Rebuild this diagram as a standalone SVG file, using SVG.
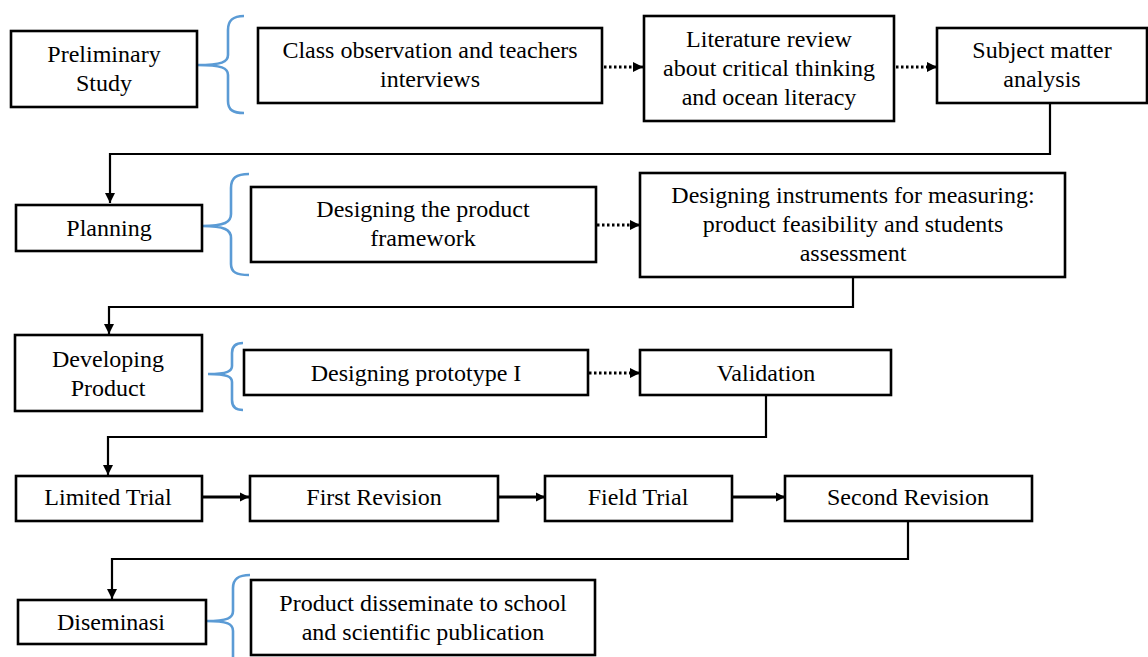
<svg xmlns="http://www.w3.org/2000/svg" width="1148" height="657" viewBox="0 0 1148 657">
<style>
.box{fill:#fff;stroke:#000;stroke-width:2.6}
.t{font-family:"Liberation Serif","Times New Roman",serif;font-size:24px;fill:#000;text-anchor:middle}
.brace{fill:none;stroke:#5B9BD5;stroke-width:2.6}
.solid{fill:none;stroke:#000;stroke-width:2.2}
.dot{fill:none;stroke:#000;stroke-width:2.8;stroke-dasharray:2.5 2.5}
.thick{fill:none;stroke:#000;stroke-width:3}
</style>
<defs>
<marker id="ah" viewBox="0 0 10 10" refX="10" refY="5" markerWidth="10" markerHeight="10" markerUnits="userSpaceOnUse" orient="auto"><path d="M0,0 L10,5 L0,10 Z" fill="#000"/></marker>
<marker id="ah2" viewBox="0 0 10 10" refX="10" refY="5" markerWidth="9" markerHeight="10" markerUnits="userSpaceOnUse" orient="auto"><path d="M0,0 L10,5 L0,10 Z" fill="#000"/></marker>
</defs>
<rect width="1148" height="657" fill="#fff"/>
<g id="braces">
<path class="brace" d="M244,16 C233,16 228,20 228,30 L228,55 C228,62 222,65 197,65 C222,65 228,68 228,75 L228,101 C228,110 233,113 244,113"/>
<path class="brace" d="M249,174 C236,174 231,178 231,188 L231,214 C231,222 225,226 202,226 C225,226 231,230 231,238 L231,264 C231,272 236,275 249,275"/>
<path class="brace" d="M243,343 C236,343 232,346 232,353 L232,366 C232,371 228,374 208,374 C228,374 232,377 232,382 L232,400 C232,407 236,410 243,410"/>
<path class="brace" d="M250,575 C238,575 233,579 233,588 L233,611 C233,618 228,621 206,621 C228,621 233,624 233,631 L233,660"/>
</g>
<g id="connectors">
<path class="dot" d="M604,67 L634,67"/>
<line x1="634" y1="67" x2="643" y2="67" stroke="#000" stroke-width="2.8" marker-end="url(#ah)"/>
<path class="dot" d="M896,67 L928,67"/>
<line x1="928" y1="67" x2="937" y2="67" stroke="#000" stroke-width="2.8" marker-end="url(#ah)"/>
<path class="solid" d="M1050,103 L1050,154 L110,154 L110,203" marker-end="url(#ah)"/>
<path class="dot" d="M597,225 L630,225"/>
<line x1="630" y1="225" x2="640" y2="225" stroke="#000" stroke-width="2.8" marker-end="url(#ah)"/>
<path class="solid" d="M853,277 L853,307 L109,307 L109,334" marker-end="url(#ah)"/>
<path class="dot" d="M589,373 L630,373"/>
<line x1="630" y1="373" x2="640" y2="373" stroke="#000" stroke-width="2.8" marker-end="url(#ah)"/>
<path class="solid" d="M766,395 L766,437 L108,437 L108,475" marker-end="url(#ah)"/>
<line class="thick" x1="202" y1="497" x2="249" y2="497" marker-end="url(#ah2)"/>
<line class="thick" x1="498" y1="497" x2="545" y2="497" marker-end="url(#ah2)"/>
<line class="thick" x1="733" y1="497" x2="785" y2="497" marker-end="url(#ah2)"/>
<path class="solid" d="M908,521 L908,559 L112,559 L112,599" marker-end="url(#ah)"/>
</g>
<g id="n-preliminary"><rect class="box" x="11" y="31" width="186" height="76"/><text class="t" x="104" y="62">Preliminary</text><text class="t" x="104" y="91">Study</text></g>
<g id="n-class"><rect class="box" x="258" y="28" width="344" height="75"/><text class="t" x="430" y="58">Class observation and teachers</text><text class="t" x="430" y="87">interviews</text></g>
<g id="n-literature"><rect class="box" x="644" y="16" width="250" height="105"/><text class="t" x="769" y="47">Literature review</text><text class="t" x="769" y="76">about critical thinking</text><text class="t" x="769" y="105">and ocean literacy</text></g>
<g id="n-subject"><rect class="box" x="937" y="28" width="210" height="75"/><text class="t" x="1042" y="58">Subject matter</text><text class="t" x="1042" y="87">analysis</text></g>
<g id="n-planning"><rect class="box" x="16" y="205" width="186" height="46"/><text class="t" x="109" y="236">Planning</text></g>
<g id="n-framework"><rect class="box" x="251" y="187" width="345" height="75"/><text class="t" x="423" y="217">Designing the product</text><text class="t" x="423" y="246">framework</text></g>
<g id="n-instruments"><rect class="box" x="640" y="173" width="425" height="104"/><text class="t" x="853" y="203">Designing instruments for measuring:</text><text class="t" x="853" y="232">product feasibility and students</text><text class="t" x="853" y="261">assessment</text></g>
<g id="n-developing"><rect class="box" x="15" y="335" width="187" height="76"/><text class="t" x="108" y="367">Developing</text><text class="t" x="108" y="396">Product</text></g>
<g id="n-prototype"><rect class="box" x="244" y="350" width="344" height="45"/><text class="t" x="416" y="381">Designing prototype I</text></g>
<g id="n-validation"><rect class="box" x="640" y="350" width="251" height="45"/><text class="t" x="766" y="381">Validation</text></g>
<g id="n-limited"><rect class="box" x="16" y="476" width="186" height="45"/><text class="t" x="108" y="505">Limited Trial</text></g>
<g id="n-first"><rect class="box" x="250" y="476" width="248" height="45"/><text class="t" x="374" y="505">First Revision</text></g>
<g id="n-field"><rect class="box" x="545" y="476" width="187" height="45"/><text class="t" x="638" y="505">Field Trial</text></g>
<g id="n-second"><rect class="box" x="785" y="476" width="247" height="45"/><text class="t" x="908" y="505">Second Revision</text></g>
<g id="n-diseminasi"><rect class="box" x="18" y="600" width="188" height="44"/><text class="t" x="111" y="630">Diseminasi</text></g>
<g id="n-product"><rect class="box" x="251" y="580" width="344" height="75"/><text class="t" x="423" y="611">Product disseminate to school</text><text class="t" x="423" y="640">and scientific publication</text></g>
</svg>
